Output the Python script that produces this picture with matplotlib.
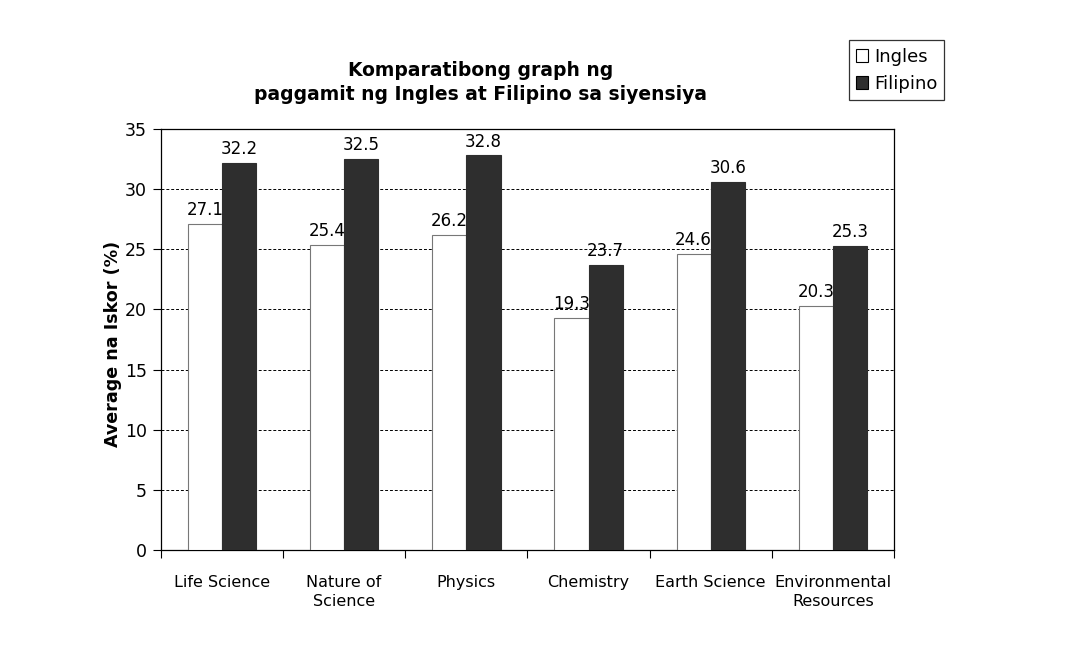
import matplotlib
matplotlib.use("Agg")
import matplotlib.pyplot as plt
import numpy as np
from matplotlib.patches import Patch

categories = ["Life Science", "Nature of\nScience", "Physics", "Chemistry",
              "Earth Science", "Environmental\nResources"]
ingles = [27.1, 25.4, 26.2, 19.3, 24.6, 20.3]
filipino = [32.2, 32.5, 32.8, 23.7, 30.6, 25.3]
series_names = ["Ingles", "Filipino"]
title = "Komparatibong graph ng\npaggamit ng Ingles at Filipino sa siyensiya"
ylabel = "Average na Iskor (%)"

plt.rcParams['font.family'] = ['DejaVu Sans']

fig = plt.figure(figsize=(10.72, 6.52), dpi=100)
ax = fig.add_axes([0.150, 0.1564, 0.684, 0.6457])

x = np.arange(len(categories))
w = 0.28
b1 = ax.bar(x - w/2, ingles, w, color="white", edgecolor="#777777", linewidth=0.8, zorder=3)
b2 = ax.bar(x + w/2, filipino, w, color="#2e2e2e", edgecolor="#2e2e2e", linewidth=0.8, zorder=3)

for rect, v in zip(b1, ingles):
    ax.text(rect.get_x() + rect.get_width()/2, v + 0.4, f"{v}", ha="center", va="bottom",
            fontsize=12, zorder=4)
for rect, v in zip(b2, filipino):
    ax.text(rect.get_x() + rect.get_width()/2, v + 0.4, f"{v}", ha="center", va="bottom",
            fontsize=12, zorder=4)

ax.set_xlim(-0.5, len(categories) - 0.5)
ax.set_ylim(0, 35)
ax.set_yticks(np.arange(0, 36, 5))
ax.yaxis.grid(True, linestyle=(0, (3, 2)), color="black", linewidth=0.7, zorder=0)
ax.set_axisbelow(True)

ax.set_xticks(x)
ax.set_xticklabels(categories, fontsize=11.5, linespacing=1.3)
ax.set_xticks(np.arange(-0.5, len(categories), 1), minor=True)
ax.tick_params(axis="x", which="major", length=0, pad=18)
ax.tick_params(axis="x", which="minor", length=6, direction="out", width=0.8)
ax.tick_params(axis="y", length=6, direction="out", width=0.8, labelsize=12.5, pad=4)
for lab in ax.get_xticklabels():
    lab.set_va("top")

for s in ax.spines.values():
    s.set_linewidth(0.9)
    s.set_color("black")

ax.set_ylabel(ylabel, fontsize=12.6, fontweight="bold", labelpad=0)
ax.yaxis.set_label_coords(-0.053, 0.489)
fig.text(0.448, 0.873, title, ha="center", va="center", fontsize=13.5,
         fontweight="bold", linespacing=1.35)

handles = [Patch(facecolor="white", edgecolor="black", linewidth=0.8),
           Patch(facecolor="#2e2e2e", edgecolor="black", linewidth=0.8)]
leg = fig.legend(handles, series_names, loc="upper right", bbox_to_anchor=(0.881, 0.938),
                 fontsize=13, frameon=True, fancybox=False, edgecolor="black",
                 handlelength=0.7, handleheight=0.7, handletextpad=0.3,
                 borderpad=0.4, labelspacing=0.5, borderaxespad=0)
leg.get_frame().set_linewidth(0.9)

fig.savefig("out.png", dpi=100, facecolor="white")
